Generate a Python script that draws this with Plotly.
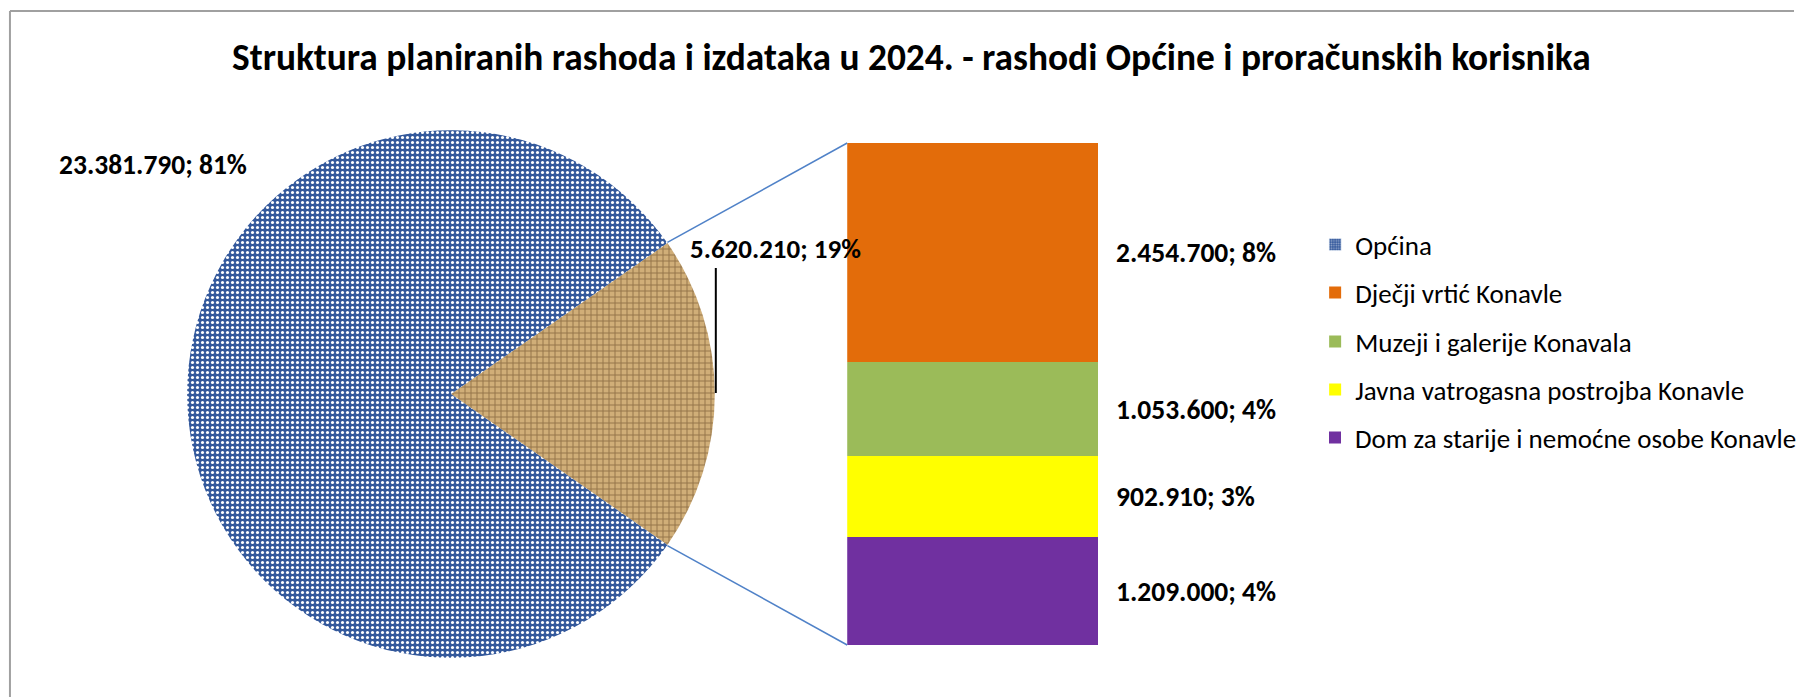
import math
import plotly.graph_objects as go

W, H = 1802, 697

title = "Struktura planiranih rashoda i izdataka u 2024. - rashodi Općine i proračunskih korisnika"

pie_labels = ["Proračunski korisnici", "Općina"]
pie_values = [5620210, 23381790]

bar_labels = ["Dječji vrtić Konavle", "Muzeji i galerije Konavala",
              "Javna vatrogasna postrojba Konavle", "Dom za starije i nemoćne osobe Konavle"]
bar_values = [2454700, 1053600, 902910, 1209000]
bar_colors = ["#E36C0A", "#9BBB59", "#FFFF00", "#7030A0"]

FONT = "Calibri, Carlito, Lato, sans-serif"
grand_total = sum(pie_values)
sub_total = sum(bar_values)

BLUE_BG = "#34599C"
TAN_BG = "#D0AE78"


def fmt(v):
    return f"{v:,}".replace(",", ".")


def lbl(v):
    return f"{fmt(v)}; {round(100 * v / grand_total)}%"


def px(x):
    return x / W


def py(y):
    return 1 - y / H


# pie geometry (pixels)
pcx, pcy, pr = 453, 394, 265
share = pie_values[0] / grand_total
half = math.radians(360 * share / 2)

fig = go.Figure()

fig.add_trace(go.Pie(
    labels=pie_labels, values=pie_values, sort=False, direction="clockwise",
    rotation=90 - 360 * share / 2,
    domain=dict(x=[px(pcx - pr), px(pcx + pr)], y=[py(pcy + pr), py(pcy - pr)]),
    marker=dict(colors=[TAN_BG, BLUE_BG],
                pattern=dict(shape=["+", "."], fgcolor=["#94744A", "white"],
                             bgcolor=[TAN_BG, BLUE_BG], size=[6, 5],
                             solidity=[0.3, 0.3]),
                line=dict(width=0)),
    textinfo="none", hoverinfo="label+value+percent", showlegend=False,
))

# legend entry for Općina
fig.add_trace(go.Bar(x=[None], y=[None], name="Općina", legend="legend",
                     marker=dict(color=BLUE_BG,
                                 pattern=dict(shape=".", fgcolor="white", bgcolor=BLUE_BG,
                                              size=3, solidity=0.4)),
                     xaxis="x", yaxis="y"))

legend_names = ["legend2", "legend3", "legend4", "legend5"]
for i in reversed(range(len(bar_labels))):
    fig.add_trace(go.Bar(x=["Korisnici"], y=[bar_values[i]], name=bar_labels[i],
                         marker=dict(color=bar_colors[i], line=dict(width=0)),
                         legend=legend_names[i], hoverinfo="name+y"))

LBL_SIZE = 27.5

# bar value labels
cum = 0
mids = {}
for i in reversed(range(len(bar_labels))):
    mids[i] = cum + bar_values[i] / 2
    cum += bar_values[i]
for i in range(len(bar_labels)):
    fig.add_annotation(x=px(1119), xref="paper", xanchor="left", y=mids[i], yref="y",
                       yanchor="middle", text=lbl(bar_values[i]), showarrow=False,
                       font=dict(family=FONT, size=LBL_SIZE, color="black", weight="bold"))

# pie labels
fig.add_annotation(x=px(154), y=py(164), xref="paper", yref="paper", text=lbl(pie_values[1]),
                   showarrow=False, xanchor="center", yanchor="middle",
                   font=dict(family=FONT, size=LBL_SIZE, color="black", weight="bold"))
fig.add_annotation(x=px(691), y=py(249), xref="paper", yref="paper", text=lbl(pie_values[0]),
                   showarrow=False, xanchor="left", yanchor="middle",
                   font=dict(family=FONT, size=27, color="black", weight="bold"))

# title
fig.add_annotation(x=px(916), y=py(57), xref="paper", yref="paper", text=title,
                   showarrow=False, xanchor="center", yanchor="middle",
                   font=dict(family=FONT, size=37.4, color="black", weight="bold"))

# bar placement
bx0, bx1, by0, by1 = 851, 1103, 143, 645

# connector lines
cx_top = pcx + pr * math.cos(half)
cy_top = pcy - pr * math.sin(half)
cy_bot = pcy + pr * math.sin(half)
shapes = [
    dict(type="line", xref="paper", yref="paper", x0=px(cx_top), y0=py(cy_top), x1=px(bx0), y1=py(by0),
         line=dict(color="#5082C8", width=1.5)),
    dict(type="line", xref="paper", yref="paper", x0=px(cx_top), y0=py(cy_bot), x1=px(bx0), y1=py(by1),
         line=dict(color="#5082C8", width=1.5)),
    # leader line for the 19% label
    dict(type="line", xref="paper", yref="paper", x0=px(719), y0=py(268), x1=px(719), y1=py(393),
         line=dict(color="black", width=2)),
    # chart border
    dict(type="line", xref="paper", yref="paper", x0=px(10), y0=0, x1=px(10), y1=py(11),
         line=dict(color="#A0A0A0", width=2)),
    dict(type="line", xref="paper", yref="paper", x0=px(10), y0=py(11), x1=1, y1=py(11),
         line=dict(color="#A0A0A0", width=2)),
]

leg_rows = [245, 293, 342, 390, 438]
leg_common = dict(x=px(1321), xanchor="left", yanchor="middle", bgcolor="rgba(0,0,0,0)",
                  font=dict(family=FONT, size=27, color="black"), borderwidth=0)

fig.update_layout(
    width=W, height=H, margin=dict(l=0, r=0, t=0, b=0, pad=0),
    paper_bgcolor="white", plot_bgcolor="white",
    barmode="stack", bargap=0,
    xaxis=dict(domain=[px(bx0), px(bx1)], type="category", visible=False, fixedrange=True),
    yaxis=dict(domain=[py(by1), py(by0)], range=[0, sub_total], visible=False, fixedrange=True),
    shapes=shapes,
    legend=dict(y=py(leg_rows[0]), **leg_common),
    legend2=dict(y=py(leg_rows[1]), **leg_common),
    legend3=dict(y=py(leg_rows[2]), **leg_common),
    legend4=dict(y=py(leg_rows[3]), **leg_common),
    legend5=dict(y=py(leg_rows[4]), **leg_common),
    font=dict(family=FONT),
)

fig.write_html("out.html", config={"displayModeBar": False},
               post_script="document.body.style.margin='0px';"
                           "document.documentElement.style.overflow='hidden';")
